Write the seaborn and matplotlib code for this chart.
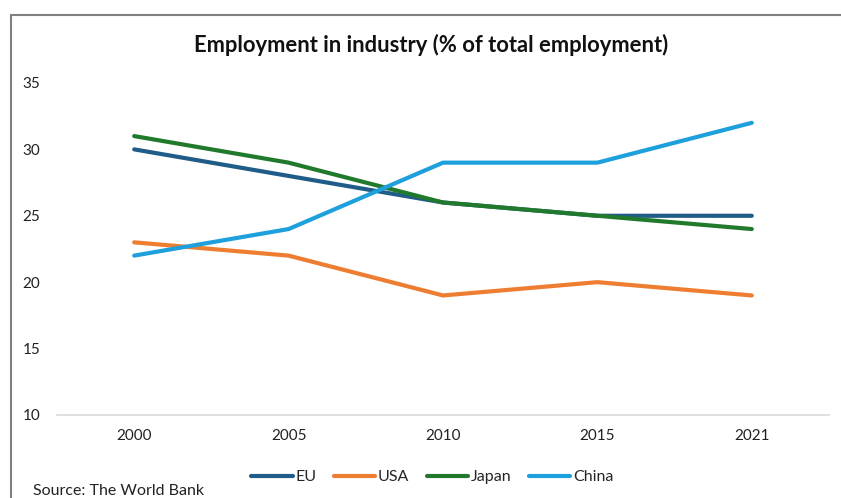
import matplotlib
matplotlib.use("Agg")
import matplotlib.pyplot as plt
from matplotlib.lines import Line2D
import seaborn as sns
import pandas as pd

years = ["2000", "2005", "2010", "2015", "2021"]
eu = [30, 28, 26, 25, 25]
usa = [23, 22, 19, 20, 19]
japan = [31, 29, 26, 25, 24]
china = [22, 24, 29, 29, 32]

series_names = ["EU", "USA", "Japan", "China"]
colors = ["#1F5C88", "#ED7D31", "#217A2B", "#1DA0DB"]

df = pd.DataFrame({"Year": years, "EU": eu, "USA": usa, "Japan": japan, "China": china})
long = df.melt(id_vars="Year", var_name="Region", value_name="Share")
long["pos"] = long["Year"].map({y: i for i, y in enumerate(years)})

sns.set_theme(style="white")
plt.rcParams["font.family"] = ["Lato", "DejaVu Sans"]

fig = plt.figure(figsize=(8.41, 4.98), dpi=100)
ax = fig.add_axes([0.0678, 0.1667, 0.9179, 0.6667])

sns.lineplot(data=long, x="pos", y="Share", hue="Region", hue_order=series_names,
             palette=colors, linewidth=3, ax=ax, legend=False, sort=False)

ax.set_xlim(-0.5, 4.5)
ax.set_ylim(10, 35)
ax.set_xticks(range(len(years)))
ax.set_xticklabels(years)
ax.set_yticks([10, 15, 20, 25, 30, 35])
ax.tick_params(axis="both", length=0, labelsize=11, colors="#222222")
ax.tick_params(axis="y", pad=12)
ax.tick_params(axis="x", pad=10)
ax.set_xlabel("")
ax.set_ylabel("")
for side in ["top", "right", "left"]:
    ax.spines[side].set_visible(False)
ax.spines["bottom"].set_color("#d9d9d9")
ax.spines["bottom"].set_linewidth(1.2)

fig.text(0.513, 0.91, "Employment in industry (% of total employment)",
         ha="center", va="center", fontsize=15.8, fontweight="bold", color="#111111")

handles = [Line2D([0], [0], color=c, lw=3) for c in colors]
fig.legend(handles, series_names, loc="center", bbox_to_anchor=(0.514, 0.042),
           ncol=4, frameon=False, fontsize=11.5, handlelength=2.6,
           handletextpad=0.15, columnspacing=1.1)

fig.text(0.039, 0.015, "Source: The World Bank", ha="left", va="center",
         fontsize=11.5, color="#222222")

# partial frame around the chart area
fig.add_artist(Line2D([0.013, 1.0], [0.970, 0.970], color="#808080", lw=1.5,
                      transform=fig.transFigure))
fig.add_artist(Line2D([0.013, 0.013], [0.0, 0.970], color="#808080", lw=1.5,
                      transform=fig.transFigure))

fig.savefig("out.png", dpi=100)
